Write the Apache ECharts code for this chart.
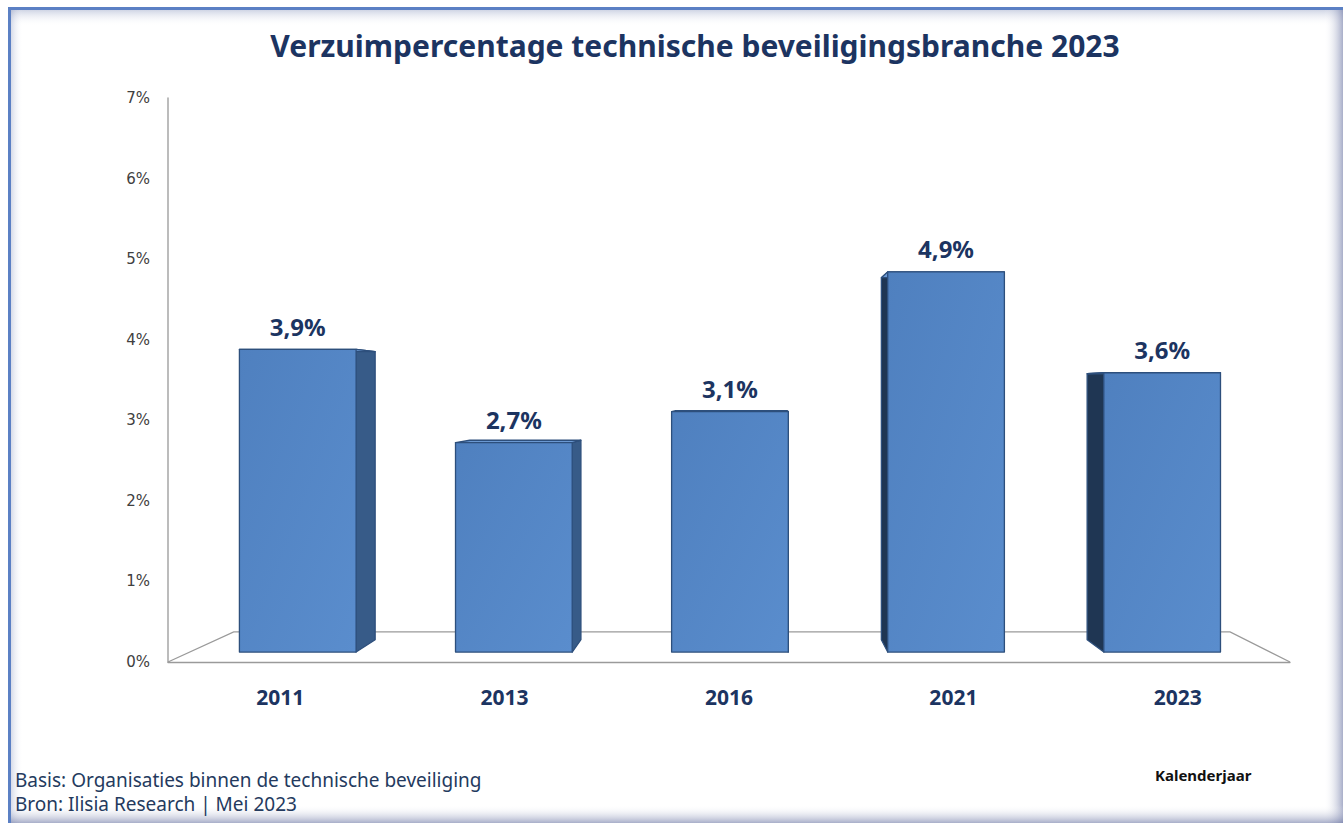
<!DOCTYPE html>
<html>
<head>
<meta charset="utf-8">
<script src="https://cdn.jsdelivr.net/npm/echarts@6/dist/echarts.min.js"></script>
<style>
  html, body { margin: 0; padding: 0; background: #fff; }
  #chart { width: 1343px; height: 823px; }
</style>
</head>
<body>
<div id="chart"></div>
<script>
// gegevens
const jaren = ["2011", "2013", "2016", "2021", "2023"];
const verzuim = [3.9, 2.7, 3.1, 4.9, 3.6];
const yTicks = [0, 1, 2, 3, 4, 5, 6, 7];

const titel = "Verzuimpercentage technische beveiligingsbranche 2023";
const basis = "Basis: Organisaties binnen de technische beveiliging";
const bron = "Bron: Ilisia Research | Mei 2023";
const asTitel = "Kalenderjaar";

const navy = "#1c3461";

// perspectief: verdwijnpunt en diepte-schalen
const VP_X = 0.523;     // fractie van gridbreedte
const VP_VAL = 3.33;    // horizonhoogte als waarde
const S_FRONT = 0.963;
const S_BACK = 0.917;
const S_FLOOR = 0.888;

function vanish(params, api) {
  const cs = params.coordSys;
  return [cs.x + cs.width * VP_X, api.coord([0, VP_VAL])[1]];
}

function proj(vp, x, y, s) {
  return [vp[0] + (x - vp[0]) * s, vp[1] + (y - vp[1]) * s];
}

function renderFloor(params, api) {
  const cs = params.coordSys;
  const vp = vanish(params, api);
  const y0 = api.coord([0, 0])[1];
  const l = cs.x, r = cs.x + cs.width;
  return {
    type: "polyline",
    shape: {
      points: [[l, y0], proj(vp, l, y0, S_FLOOR), proj(vp, r, y0, S_FLOOR), [r, y0]]
    },
    style: { stroke: "#9a9a9a", lineWidth: 1.3, fill: null },
    silent: true
  };
}

function renderBar(params, api) {
  const vp = vanish(params, api);
  const i = api.value(0);
  const v = api.value(1);
  const base = api.coord([i, 0]);
  const top = api.coord([i, v]);
  const hw = api.size([1, 0])[0] * 0.54 / 2;
  const xl = base[0] - hw, xr = base[0] + hw;

  const fTL = proj(vp, xl, top[1], S_FRONT), fTR = proj(vp, xr, top[1], S_FRONT);
  const fBL = proj(vp, xl, base[1], S_FRONT), fBR = proj(vp, xr, base[1], S_FRONT);
  const bTL = proj(vp, xl, top[1], S_BACK), bTR = proj(vp, xr, top[1], S_BACK);
  const bBL = proj(vp, xl, base[1], S_BACK), bBR = proj(vp, xr, base[1], S_BACK);

  const rightSide = base[0] < vp[0];
  const side = rightSide ? [fTR, bTR, bBR, fBR] : [fTL, bTL, bBL, fBL];
  const edge = { stroke: "#2d4f7c", lineWidth: 1.3, lineJoin: "round" };

  const label = v.toFixed(1).replace(".", ",") + "%";

  return {
    type: "group",
    children: [
      {
        type: "polygon",
        shape: { points: side },
        style: Object.assign({ fill: rightSide ? "#375b88" : "#1f3653" }, edge)
      },
      {
        type: "polygon",
        shape: { points: [fTL, fTR, bTR, bTL] },
        style: Object.assign({ fill: "#6a98d2" }, edge)
      },
      {
        type: "polygon",
        shape: { points: [fTL, fTR, fBR, fBL] },
        style: Object.assign({
          fill: new echarts.graphic.LinearGradient(0, 0, 1, 1, [
            { offset: 0, color: "#4f80bf" },
            { offset: 1, color: "#5a8dcd" }
          ])
        }, edge)
      },
      {
        type: "text",
        style: {
          text: label,
          x: (fTL[0] + fTR[0]) / 2,
          y: fTL[1] - 11,
          align: "center",
          verticalAlign: "bottom",
          fill: navy,
          font: "bold 24px 'Noto Sans'"
        }
      }
    ]
  };
}

const chart = echarts.init(document.getElementById("chart"), null, { renderer: "svg" });

const edgeGrad = (x1, y1, x2, y2, c) => new echarts.graphic.LinearGradient(x1, y1, x2, y2, [
  { offset: 0, color: "rgba(255,255,255,0)" },
  { offset: 1, color: c }
]);

chart.setOption({
  animation: false,
  backgroundColor: "#ffffff",
  title: {
    text: titel,
    left: 690,
    top: 25,
    textAlign: "center",
    textStyle: { color: navy, fontSize: 30, fontWeight: "bold", fontFamily: "Noto Sans" }
  },
  grid: { left: 168, right: 53, top: 98, bottom: 161 },
  xAxis: {
    type: "category",
    data: jaren,
    axisLine: { lineStyle: { color: "#9a9a9a", width: 1.3 } },
    axisTick: { show: false },
    axisLabel: {
      margin: 24,
      color: navy,
      fontSize: 21,
      fontWeight: "bold",
      fontFamily: "Noto Sans"
    }
  },
  yAxis: {
    type: "value",
    min: yTicks[0],
    max: yTicks[yTicks.length - 1],
    interval: 1,
    axisLine: { show: true, lineStyle: { color: "#a6a6a6", width: 1.5 } },
    axisTick: { show: false },
    splitLine: { show: false },
    axisLabel: {
      margin: 18,
      color: "#404040",
      fontSize: 15,
      fontFamily: "DejaVu Sans",
      formatter: "{value}%"
    }
  },
  graphic: [
    { type: "rect", shape: { x: 8, y: 7, width: 1335, height: 3 }, style: { fill: "#5b80c4" }, silent: true },
    { type: "rect", shape: { x: 8, y: 7, width: 3, height: 816 }, style: { fill: "#5b80c4" }, silent: true },
    { type: "rect", shape: { x: 11, y: 10, width: 1332, height: 16 }, style: { fill: edgeGrad(0, 1, 0, 0, "rgba(120,135,180,0.35)") }, silent: true },
    { type: "rect", shape: { x: 11, y: 10, width: 12, height: 813 }, style: { fill: edgeGrad(1, 0, 0, 0, "rgba(120,135,180,0.3)") }, silent: true },
    { type: "rect", shape: { x: 1324, y: 10, width: 19, height: 813 }, style: { fill: edgeGrad(0, 0, 1, 0, "rgba(110,120,165,0.6)") }, silent: true },
    { type: "rect", shape: { x: 11, y: 805, width: 1332, height: 18 }, style: { fill: edgeGrad(0, 0, 0, 1, "rgba(110,120,165,0.6)") }, silent: true },
    {
      type: "text", left: 15, top: 770,
      style: { text: basis, fill: "#243a5e", font: "19px 'Noto Sans'" }
    },
    {
      type: "text", left: 15, top: 794,
      style: { text: bron, fill: "#243a5e", font: "19px 'Noto Sans'" }
    },
    {
      type: "text", left: 1155, top: 767,
      style: { text: asTitel, fill: "#111", font: "bold 15px 'Noto Sans'" }
    }
  ],
  series: [
    {
      type: "custom",
      renderItem: renderFloor,
      data: [[0, 0]],
      z: 1,
      silent: true
    },
    {
      type: "custom",
      renderItem: renderBar,
      data: jaren.map((j, i) => [i, verzuim[i]]),
      encode: { x: 0, y: 1 },
      z: 2
    }
  ]
});
</script>
</body>
</html>
